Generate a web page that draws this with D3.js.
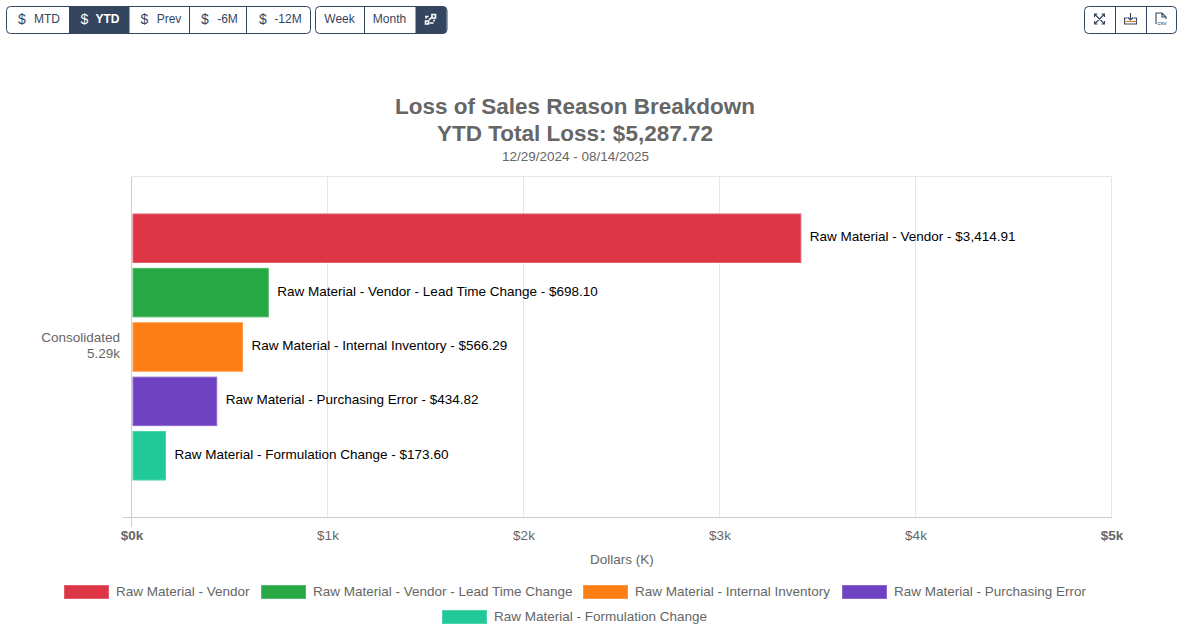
<!DOCTYPE html>
<html><head><meta charset="utf-8">
<script src="https://cdn.jsdelivr.net/npm/d3@7"></script>
<style>
html,body{margin:0;padding:0;background:#fff;overflow:hidden}
svg{display:block;font-family:"Liberation Sans",Arial,sans-serif}
</style></head><body>
<svg id="c" width="1178" height="637"></svg>
<script>
const categories=["Consolidated"];
const seriesNames=["Raw Material - Vendor","Raw Material - Vendor - Lead Time Change","Raw Material - Internal Inventory","Raw Material - Purchasing Error","Raw Material - Formulation Change"];
const seriesValues=[3414.91,698.10,566.29,434.82,173.60];
const seriesColors=["#dc3545","#28a745","#fd7e14","#6f42c1","#20c997"];
const xTicks=[0,1000,2000,3000,4000,5000];
const titleLines=["Loss of Sales Reason Breakdown","YTD Total Loss: $5,287.72"];
const subtitle="12/29/2024 - 08/14/2025";
const categoryLabel=["Consolidated","5.29k"];
const xTitle="Dollars (K)";
const group1=[["$","MTD",false],["$","YTD",true],["$","Prev",false],["$","-6M",false],["$","-12M",false]];
const group2=["Week","Month"];

const svg=d3.select("#c");
const navy="#34465f";
const FS=13.5;
const x=d3.scaleLinear().domain([0,5000]).range([131.5,1111.5]);
const y1=d3.scaleBand().domain(seriesNames).range([213.5,480.5]).paddingInner(0.09).paddingOuter(0);
const fmt=d3.format(",.2f");
const edge=c=>d3.interpolateRgb(c,"#fff")(0.2);

function btnGroup(bx,by,widths,h){
  const total=d3.sum(widths);
  const g=svg.append("g");
  g.append("rect").attr("x",bx+.5).attr("y",by+.5).attr("width",total).attr("height",h).attr("rx",4).attr("fill","#fff").attr("stroke",navy);
  return g;
}
const w1=[62.5,60.5,60,57,64];
const dollarX=[22,84.5,144.5,205,263];
const labelX=[47,107.5,169,227.5,288];
let g=btnGroup(6,6,w1,27);
let cx=6;
group1.forEach((b,i)=>{
  if(b[2]) g.append("rect").attr("x",cx+.5).attr("y",6.5).attr("width",w1[i]).attr("height",27).attr("fill",navy);
  else if(i>0&&!group1[i-1][2]) g.append("line").attr("x1",cx+.5).attr("x2",cx+.5).attr("y1",6.5).attr("y2",33.5).attr("stroke",navy);
  const col=b[2]?"#fff":navy;
  g.append("text").attr("x",dollarX[i]).attr("y",24).attr("font-size",14).attr("text-anchor","middle").attr("fill",col).text(b[0]);
  g.append("text").attr("x",labelX[i]).attr("y",23).attr("font-size",12).attr("font-weight",b[2]?"700":"400").attr("text-anchor","middle").attr("fill",col).text(b[1]);
  cx+=w1[i];
});
const w2=[49,51,31.5];
g=btnGroup(315,6,w2,27);
cx=315;
group2.forEach((t,i)=>{
  if(i>0) g.append("line").attr("x1",cx+.5).attr("x2",cx+.5).attr("y1",6.5).attr("y2",33.5).attr("stroke",navy);
  g.append("text").attr("x",cx+w2[i]/2).attr("y",23).attr("font-size",12).attr("text-anchor","middle").attr("fill",navy).text(t);
  cx+=w2[i];
});
g.append("path").attr("d",`M${cx+.5} 6.5H${cx+27.5}a4 4 0 0 1 4 4V29.5a4 4 0 0 1 -4 4H${cx+.5}Z`).attr("fill",navy);
const ic=g.append("g").attr("transform",`translate(${cx+15.5},19.5)`).attr("stroke","#fff").attr("fill","none").attr("stroke-width",1.6);
ic.append("path").attr("d","M-5 1.5h3v3h-3zM1.5 -5h3.5v3.5h-3.5zM-1.5 0.5L1 -2");
ic.append("path").attr("d","M-1 3.5L3 3.5M3.5 0V2M-4.5 -1V-3H-2");

const w3=[31,31,30];
g=btnGroup(1084,6,w3,27);
cx=1084;
w3.forEach((w,i)=>{
  if(i>0) g.append("line").attr("x1",cx+.5).attr("x2",cx+.5).attr("y1",6.5).attr("y2",33.5).attr("stroke",navy);
  const c=g.append("g").attr("transform",`translate(${cx+w/2},19)`).attr("stroke",navy).attr("fill","none").attr("stroke-width",1.1);
  if(i==0){
    c.append("path").attr("d","M-5 -5L5 5M5 -5L-5 5M-5 -2V-5H-2M2 -5H5V-2M5 2V5H2M-2 5H-5V2");
  }else if(i==1){
    c.append("path").attr("d","M0 -6V1M-2.5 -1.5L0 1L2.5 -1.5M-3 -1H-6L-6 5H6V-1H3");
    c.append("path").attr("d","M-6 2.5H6").attr("stroke","#d9822b");
  }else{
    c.append("path").attr("d","M-5 5V-6H1L5 -2V0M1 -6V-2H5");
    c.append("text").attr("x",1).attr("y",6).attr("font-size",6).attr("stroke","none").attr("fill",navy).attr("text-anchor","middle").text("csv");
  }
  cx+=w;
});

const titleY=[114,141];
titleLines.forEach((t,i)=>svg.append("text").attr("x",575).attr("y",titleY[i]).attr("text-anchor","middle").attr("font-size",22.5).attr("font-weight",700).attr("fill","#666").text(t));
svg.append("text").attr("x",575.5).attr("y",160.5).attr("text-anchor","middle").attr("font-size",FS).attr("fill","#666").text(subtitle);

const grid=svg.append("g");
xTicks.forEach(t=>grid.append("line").attr("x1",x(t)).attr("x2",x(t)).attr("y1",177).attr("y2",t==0?527:518).attr("stroke",t==0?"#ccc":"#e6e6e6"));
grid.append("line").attr("x1",x(0)).attr("x2",x(5000)).attr("y1",176.5).attr("y2",176.5).attr("stroke","#e6e6e6");
grid.append("line").attr("x1",123).attr("x2",x(5000)).attr("y1",517.5).attr("y2",517.5).attr("stroke","#ccc");

svg.append("g").selectAll("rect").data(seriesNames).join("rect")
 .attr("x",x(0)+1.5).attr("y",d=>y1(d)+.5)
 .attr("width",(d,i)=>x(seriesValues[i])-x(0)-1.5).attr("height",y1.bandwidth()-1)
 .attr("fill",(d,i)=>seriesColors[i]).attr("stroke",(d,i)=>edge(seriesColors[i]));
svg.append("g").selectAll("text").data(seriesNames).join("text")
 .attr("x",(d,i)=>x(seriesValues[i])+9).attr("y",d=>y1(d)+y1.bandwidth()/2+3)
 .attr("font-size",FS).attr("fill","#000")
 .text((d,i)=>`${d} - $${fmt(seriesValues[i])}`);

xTicks.forEach((t,i)=>{
  const e=i==0||i==xTicks.length-1;
  svg.append("text").attr("x",x(t)+.5).attr("y",540).attr("text-anchor","middle").attr("font-size",FS).attr("font-weight",e?700:400).attr("fill","#666").text("$"+t/1000+"k");
});
svg.append("text").attr("x",622).attr("y",564).attr("text-anchor","middle").attr("font-size",FS).attr("fill","#666").text(xTitle);
categoryLabel.forEach((t,i)=>svg.append("text").attr("x",120).attr("y",342+i*16).attr("text-anchor","end").attr("font-size",FS).attr("fill","#666").text(t));

const legendPos=[[64,585],[261,585],[583,585],[842,585],[442,610]];
const lg=svg.append("g");
seriesNames.forEach((n,i)=>{
  const [lx,ly]=legendPos[i];
  lg.append("rect").attr("x",lx+.5).attr("y",ly+.5).attr("width",44).attr("height",13).attr("fill",seriesColors[i]).attr("stroke",edge(seriesColors[i]));
  lg.append("text").attr("x",lx+52).attr("y",ly+10.5).attr("font-size",FS).attr("fill","#666").text(n);
});
</script>
</body></html>
